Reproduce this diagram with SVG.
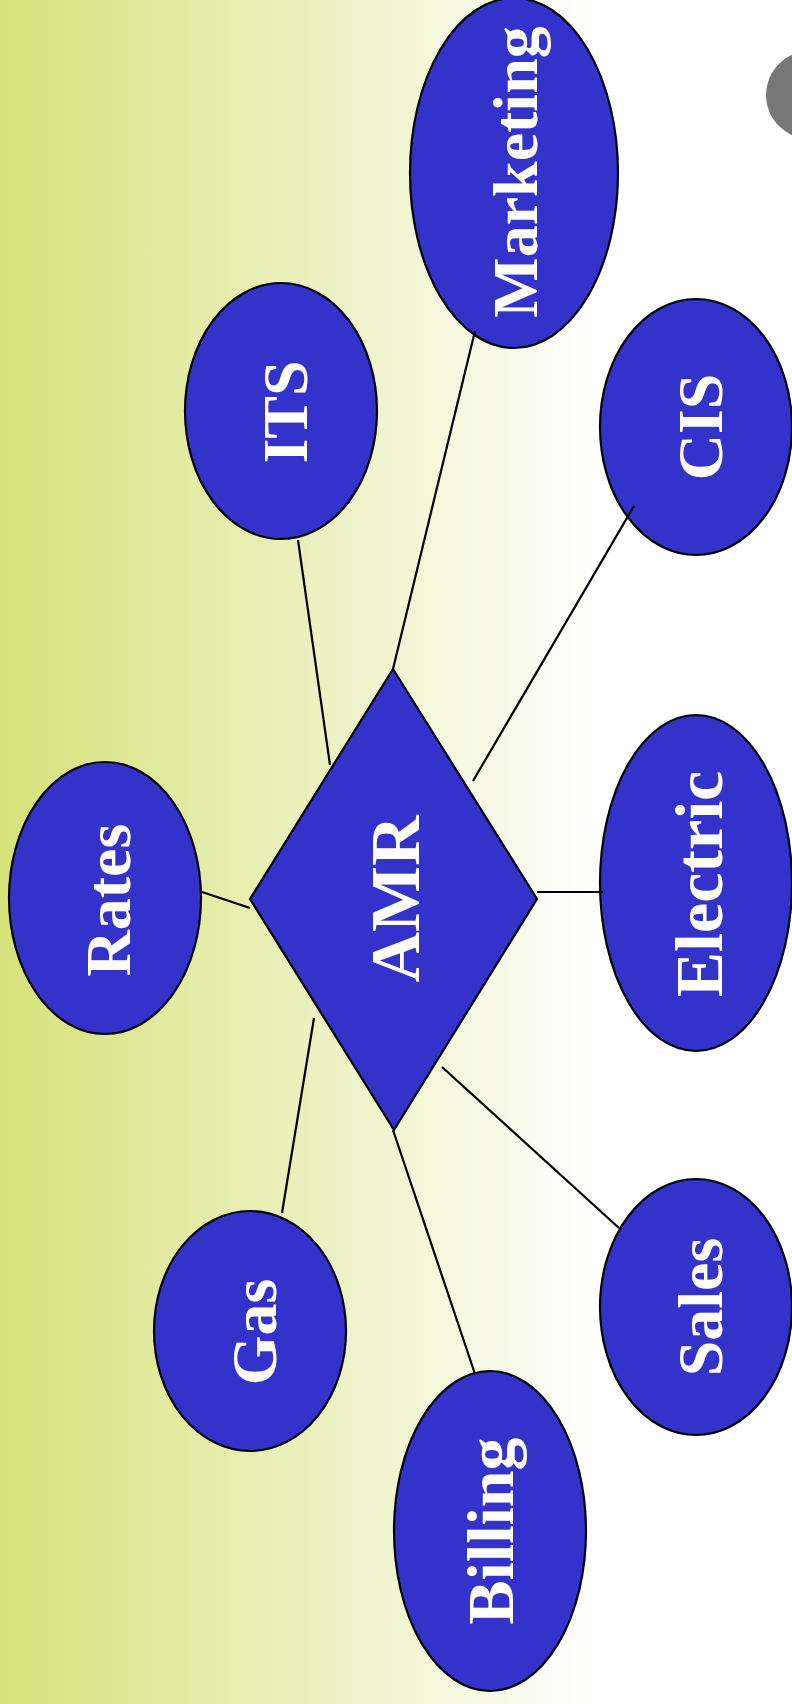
<svg xmlns="http://www.w3.org/2000/svg" width="792" height="1704" viewBox="0 0 792 1704">
<defs>
<linearGradient id="bg" x1="0" y1="0" x2="600" y2="0" gradientUnits="userSpaceOnUse">
<stop offset="0" stop-color="#d6e27a"/>
<stop offset="1" stop-color="#ffffff"/>
</linearGradient>
<style>
.n{fill:#3333cc;stroke:#000;stroke-width:2.2}
.t{font-family:"Liberation Serif","Times New Roman",serif;font-weight:bold;fill:#fff;text-anchor:middle}
.c line{stroke:#000;stroke-width:2.2}
</style>
</defs>
<rect x="0" y="0" width="792" height="1704" fill="url(#bg)"/>
<circle cx="810" cy="95" r="44" fill="#777777"/>
<g id="amr">
<polygon class="n" points="393,669 537,899 394,1130 250,899"/>
<text class="t" font-size="70" transform="translate(419,899) rotate(-90)">AMR</text>
</g>
<g id="marketing">
<ellipse class="n" cx="514" cy="173" rx="104" ry="175"/>
<text class="t" font-size="64" transform="translate(537,172) rotate(-90)">Marketing</text>
</g>
<g id="its">
<ellipse class="n" cx="281" cy="411" rx="96" ry="128"/>
<text class="t" font-size="64" transform="translate(307,412) rotate(-90)">ITS</text>
</g>
<g id="cis">
<ellipse class="n" cx="696" cy="427" rx="96" ry="128"/>
<text class="t" font-size="64" transform="translate(722,427) rotate(-90)">CIS</text>
</g>
<g id="rates">
<ellipse class="n" cx="105" cy="898" rx="96" ry="136"/>
<text class="t" font-size="64" transform="translate(130,900) rotate(-90)">Rates</text>
</g>
<g id="electric">
<ellipse class="n" cx="696" cy="883" rx="96" ry="168"/>
<text class="t" font-size="68" transform="translate(722,884) rotate(-90)">Electric</text>
</g>
<g id="gas">
<ellipse class="n" cx="250" cy="1331" rx="96" ry="120"/>
<text class="t" font-size="64" transform="translate(276,1332) rotate(-90)">Gas</text>
</g>
<g id="sales">
<ellipse class="n" cx="696" cy="1307" rx="96" ry="128"/>
<text class="t" font-size="64" transform="translate(722,1307) rotate(-90)">Sales</text>
</g>
<g id="billing">
<ellipse class="n" cx="490" cy="1531" rx="96" ry="160"/>
<text class="t" font-size="66" transform="translate(513,1531) rotate(-90)">Billing</text>
</g>
<g class="c" id="connectors">
<line x1="298" y1="540" x2="330" y2="765"/>
<line x1="475" y1="331" x2="393" y2="669"/>
<line x1="634" y1="506" x2="473" y2="781"/>
<line x1="202" y1="892" x2="250" y2="908"/>
<line x1="537" y1="892" x2="603" y2="892"/>
<line x1="314" y1="1018" x2="282" y2="1213"/>
<line x1="442" y1="1067" x2="619" y2="1228"/>
<line x1="393" y1="1130" x2="475" y2="1374"/>
</g>
</svg>
